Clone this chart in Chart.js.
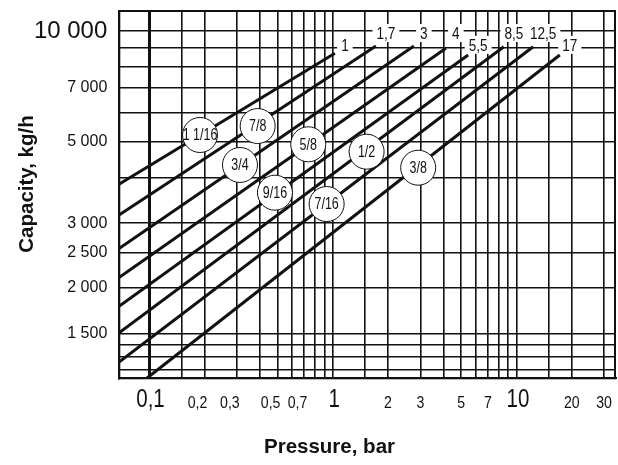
<!DOCTYPE html>
<html><head><meta charset="utf-8">
<script src="https://cdn.jsdelivr.net/npm/chart.js@4.4.0/dist/chart.umd.min.js"></script>
<style>html,body{margin:0;padding:0;background:#fff}#wrap{width:618px;height:465px;position:relative}</style>
</head><body><div id="wrap"><canvas id="c"></canvas></div>
<script>
// ---- data ----
const lineLabels = ['1','1,7','3','4','5,5','8,5','12,5','17'];
const lineStartPressure = [0.069,0.069,0.069,0.069,0.069,0.069,0.069,0.0972];
const lineStartCapacity = [3837,3162,2565,2138,1787,1512,1260,1136];
const lineEndPressure = [1.028,1.718,2.766,4.13,5.46,8.54,12.33,17.22];
const lineEndCapacity = [8697,9103,9103,8973,8602,9064,9064,8602];
const sizeLabels = ['1 1/16','7/8','3/4','5/8','9/16','1/2','7/16','3/8'];
const sizePressure = [0.1895,0.3903,0.3127,0.7358,0.4847,1.529,0.9265,2.919];
const sizeCapacity = [5214,5515,4321,4919,3633,4696,3384,4248];
const xTickValues = [0.1,0.2,0.3,0.5,0.7,1,2,3,5,7,10,20,30];
const xTickLabels = ['0,1','0,2','0,3','0,5','0,7','1','2','3','5','7','10','20','30'];
const xGridValues = [0.1,0.15,0.2,0.3,0.4,0.5,0.6,0.7,0.8,0.9,1,1.5,2,3,4,5,6,7,8,9,10,15,20,30];
const yTickValues = [1500,2000,2500,3000,5000,7000,10000];
const yTickLabels = ['1 500','2 000','2 500','3 000','5 000','7 000','10 000'];
const yGridValues = [1200,1300,1400,1500,2000,2500,3000,4000,5000,6000,7000,8000,9000,10000];
const xTitle = 'Pressure, bar';
const yTitle = 'Capacity, kg/h';

const FAM = "'Liberation Sans', Arial, Helvetica, sans-serif";
const INK = '#111';

function drawScaled(ctx, text, x, y, sx, font, align, baseline) {
  ctx.save();
  ctx.translate(x, y);
  ctx.scale(sx, 1);
  ctx.font = font;
  ctx.textAlign = align || 'center';
  ctx.textBaseline = baseline || 'middle';
  ctx.fillStyle = INK;
  ctx.fillText(text, 0, 0);
  ctx.restore();
}

function noPad(s) {
  s.paddingTop = 0; s.paddingBottom = 0; s.paddingLeft = 0; s.paddingRight = 0;
}

const decor = {
  id: 'decor',
  beforeDatasetsDraw(chart) {
    const {ctx, chartArea: a, scales: {x, y}} = chart;
    ctx.save();
    ctx.strokeStyle = INK; ctx.lineWidth = 2;
    ctx.strokeRect(a.left, a.top, a.right - a.left, a.bottom - a.top);
    ctx.restore();
    // white boxes + line-end labels
    lineLabels.forEach((t, i) => {
      const ex = x.getPixelForValue(lineEndPressure[i]);
      const high = lineEndCapacity[i] > 8800;
      const cy = high ? y.getPixelForValue(10000) + 2 : y.getPixelForValue(9000) - 3;
      const cx = ex + 10;
      ctx.save();
      ctx.font = '17px ' + FAM;
      const w = ctx.measureText(t).width * 0.8;
      ctx.fillStyle = '#fff';
      ctx.fillRect(cx - w / 2 - 4, cy - 9, w + 8, 18);
      ctx.restore();
      drawScaled(ctx, t, cx, cy + 1, 0.8, '17px ' + FAM);
    });
  },
  afterDatasetsDraw(chart) {
    const {ctx} = chart;
    const meta = chart.getDatasetMeta(0);
    meta.data.forEach((pt, i) => {
      drawScaled(ctx, sizeLabels[i], pt.x, pt.y + 1, 0.78, '16px ' + FAM);
    });
  },
  afterDraw(chart) {
    const {ctx, scales: {x}} = chart;
    xTickValues.forEach((v, i) => {
      const px = x.getPixelForValue(v);
      const big = (v === 0.1 || v === 1 || v === 10);
      if (big) {
        drawScaled(ctx, xTickLabels[i], px + 1.5, 407, 0.82, '25px ' + FAM, 'center', 'alphabetic');
      } else if (v < 1) {
        drawScaled(ctx, xTickLabels[i], px + 3, 408, 0.83, '17px ' + FAM, 'right', 'alphabetic');
      } else {
        drawScaled(ctx, xTickLabels[i], px, 408, 0.83, '17px ' + FAM, 'center', 'alphabetic');
      }
    });
    ctx.save();
    ctx.font = 'bold 20.5px ' + FAM;
    ctx.fillStyle = INK;
    ctx.textAlign = 'center';
    ctx.textBaseline = 'middle';
    ctx.fillText(xTitle, 329.5, 447.5);
    ctx.translate(27.5, 184);
    ctx.rotate(-Math.PI / 2);
    ctx.fillText(yTitle, 0, 0);
    ctx.restore();
  }
};

const lineSets = lineLabels.map((t, i) => ({
  type: 'line',
  label: t,
  data: [{x: lineStartPressure[i], y: lineStartCapacity[i]}, {x: lineEndPressure[i], y: lineEndCapacity[i]}],
  borderColor: INK,
  borderWidth: 3,
  pointRadius: 0,
  fill: false,
  order: 1
}));

const circleSet = {
  type: 'scatter',
  label: 'sizes',
  data: sizePressure.map((p, i) => ({x: p, y: sizeCapacity[i]})),
  pointRadius: 17.5,
  pointHoverRadius: 17.5,
  backgroundColor: '#fff',
  borderColor: INK,
  borderWidth: 1,
  order: 0
};

new Chart(document.getElementById('c'), {
  type: 'line',
  data: {datasets: [circleSet, ...lineSets]},
  options: {
    responsive: true,
    maintainAspectRatio: false,
    animation: false,
    events: [],
    layout: {autoPadding: false, padding: {left: 0, right: 3, top: 11, bottom: 0}},
    plugins: {legend: {display: false}, tooltip: {enabled: false}},
    scales: {
      x: {
        type: 'logarithmic',
        min: 0.0689,
        max: 34.4,
        afterBuildTicks: s => { s.ticks = xGridValues.map(v => ({value: v})); },
        afterFit: s => { s.height = 86.7; noPad(s); },
        grid: {
          color: INK,
          lineWidth: c => (c.tick && c.tick.value === 0.1) ? 3 : 1.6,
          drawTicks: false
        },
        border: {display: true, color: INK, width: 2},
        ticks: {display: false, autoSkip: false}
      },
      y: {
        type: 'logarithmic',
        min: 1136,
        max: 11335,
        afterBuildTicks: s => { s.ticks = yGridValues.map(v => ({value: v})); },
        afterFit: s => { s.width = 119.3; noPad(s); },
        grid: {color: INK, lineWidth: 1.6, drawTicks: false},
        border: {display: true, color: INK, width: 2},
        ticks: {
          autoSkip: false,
          padding: 12,
          color: INK,
          font: c => ({family: FAM, size: (c.tick && c.tick.value === 10000) ? 24 : 16}),
          callback: v => {
            const k = yTickValues.indexOf(v);
            return k >= 0 ? yTickLabels[k] : '';
          }
        }
      }
    }
  },
  plugins: [decor]
});
</script>
</body></html>
